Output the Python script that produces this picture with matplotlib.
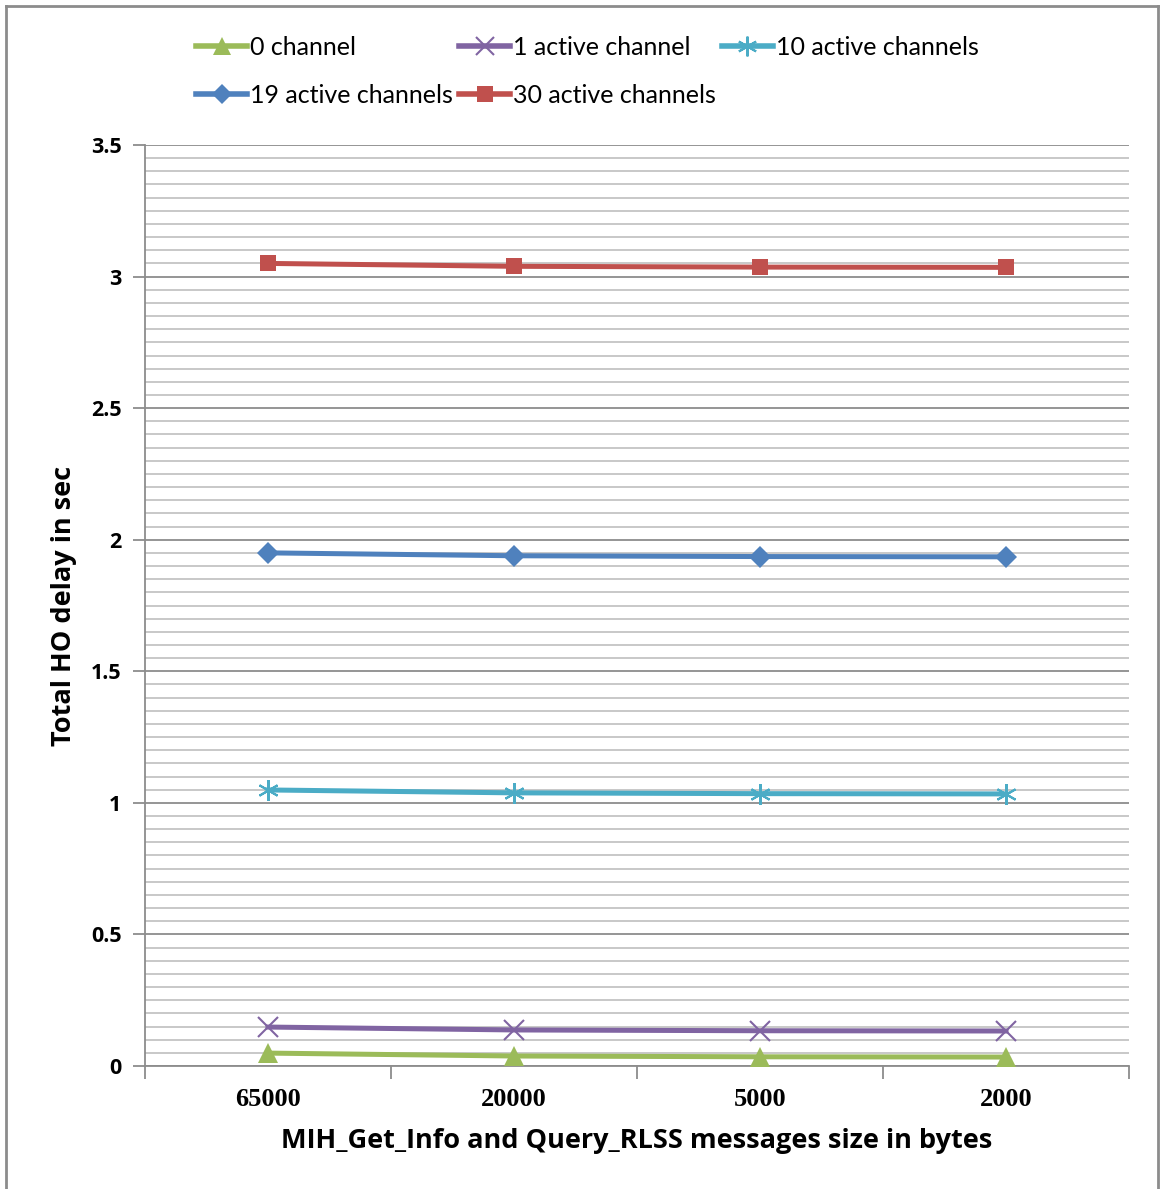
"""Total HO delay vs MIH_Get_Info / Query_RLSS message size."""

import matplotlib

matplotlib.use("Agg")
import matplotlib.pyplot as plt
from matplotlib.lines import Line2D
from matplotlib.ticker import MultipleLocator, FixedLocator, NullFormatter

sizes = ["65000", "20000", "5000", "2000"]
series_names = [
    "0 channel",
    "1 active channel",
    "10 active channels",
    "19 active channels",
    "30 active channels",
]
delay_0 = [0.049, 0.038, 0.035, 0.034]
delay_1 = [0.148, 0.137, 0.134, 0.133]
delay_10 = [1.049, 1.038, 1.035, 1.034]
delay_19 = [1.950, 1.939, 1.936, 1.935]
delay_30 = [3.050, 3.039, 3.036, 3.035]
y_ticks = [0, 0.5, 1, 1.5, 2, 2.5, 3, 3.5]
y_tick_labels = ["0", "0.5", "1", "1.5", "2", "2.5", "3", "3.5"]

styles = [
    ("#9BBB59", "^", 14),
    ("#8064A2", "x", 14),
    ("#4BACC6", (6, 2, 0), 15),
    ("#4F81BD", "D", 11),
    ("#C0504D", "s", 12),
]

W, H = 1160, 1189
fig = plt.figure(figsize=(W / 100, H / 100), dpi=100)
ax = fig.add_axes([145 / W, 1 - 1066 / H, (1129 - 145) / W, (1066 - 145) / H])

x = list(range(len(sizes)))
handles = []
for name, values, (color, marker, ms) in zip(
    series_names, [delay_0, delay_1, delay_10, delay_19, delay_30], styles
):
    mew = 1.5 if marker == "x" or isinstance(marker, tuple) else 0
    ax.plot(
        x, values, color=color, lw=3.6, marker=marker, ms=ms,
        markeredgewidth=mew, markeredgecolor=color, zorder=3, clip_on=False,
    )
    handles.append(Line2D([], [], color=color, lw=4, marker=marker, ms=ms * 0.95,
                          markeredgewidth=mew, markeredgecolor=color))

ax.set_xlim(-0.5, len(sizes) - 0.5)
ax.set_ylim(0, 3.5)
ax.set_yticks(y_ticks, y_tick_labels)
for lbl in ax.get_yticklabels():
    lbl.set_fontfamily("Open Sans")
    lbl.set_fontweight("bold")
    lbl.set_fontsize(15.5)
ax.yaxis.set_minor_locator(MultipleLocator(0.05))
ax.yaxis.set_minor_formatter(NullFormatter())
ax.grid(which="major", axis="y", color="#8C8C8C", lw=1.3, zorder=0)
ax.grid(which="minor", axis="y", color="#C4C4C4", lw=1.3, zorder=0)
ax.tick_params(axis="y", which="major", length=9, width=1.3, color="#8C8C8C", pad=8)
ax.tick_params(axis="y", which="minor", length=0)

ax.xaxis.set_major_locator(FixedLocator(x))
ax.xaxis.set_minor_locator(FixedLocator([i - 0.5 for i in range(len(sizes) + 1)]))
ax.set_xticklabels(sizes, fontfamily="Liberation Serif", fontweight="bold", fontsize=19)
ax.tick_params(axis="x", which="major", length=0, pad=16)
ax.tick_params(axis="x", which="minor", length=9, width=1.3, color="#8C8C8C")

for side in ("top", "right"):
    ax.spines[side].set_visible(False)
for side in ("left", "bottom"):
    ax.spines[side].set_color("#8C8C8C")
    ax.spines[side].set_linewidth(1.3)

ax.set_ylabel("Total HO delay in sec", fontfamily="Open Sans", fontweight="bold",
              fontsize=19.5, labelpad=10)
ax.set_xlabel("MIH_Get_Info and Query_RLSS messages size in bytes",
              fontfamily="Open Sans", fontweight="bold", fontsize=19.5, labelpad=12)

# legend in row-major order: 3 on first row, 2 on second
order = [0, 3, 1, 4, 2]
fig.legend(
    [handles[i] for i in order], [series_names[i] for i in order],
    ncol=3, loc="upper left", bbox_to_anchor=(186 / W, 1 - 26 / H),
    frameon=False, prop={"family": "Lato", "size": 18},
    handlelength=2.05, handletextpad=0.1, columnspacing=0.25, labelspacing=1.0,
    borderaxespad=0,
)

# outer chart frame (open at the bottom like the cropped reference)
frame_kw = dict(color="#8C8C8C", lw=2, transform=fig.transFigure, clip_on=False)
fig.add_artist(Line2D([6 / W, 6 / W], [0, 1 - 6 / H], **frame_kw))
fig.add_artist(Line2D([6 / W, 1158 / W], [1 - 6 / H, 1 - 6 / H], **frame_kw))
fig.add_artist(Line2D([1158 / W, 1158 / W], [0, 1 - 6 / H], **frame_kw))

fig.savefig("out.png", dpi=100)
plt.close(fig)
